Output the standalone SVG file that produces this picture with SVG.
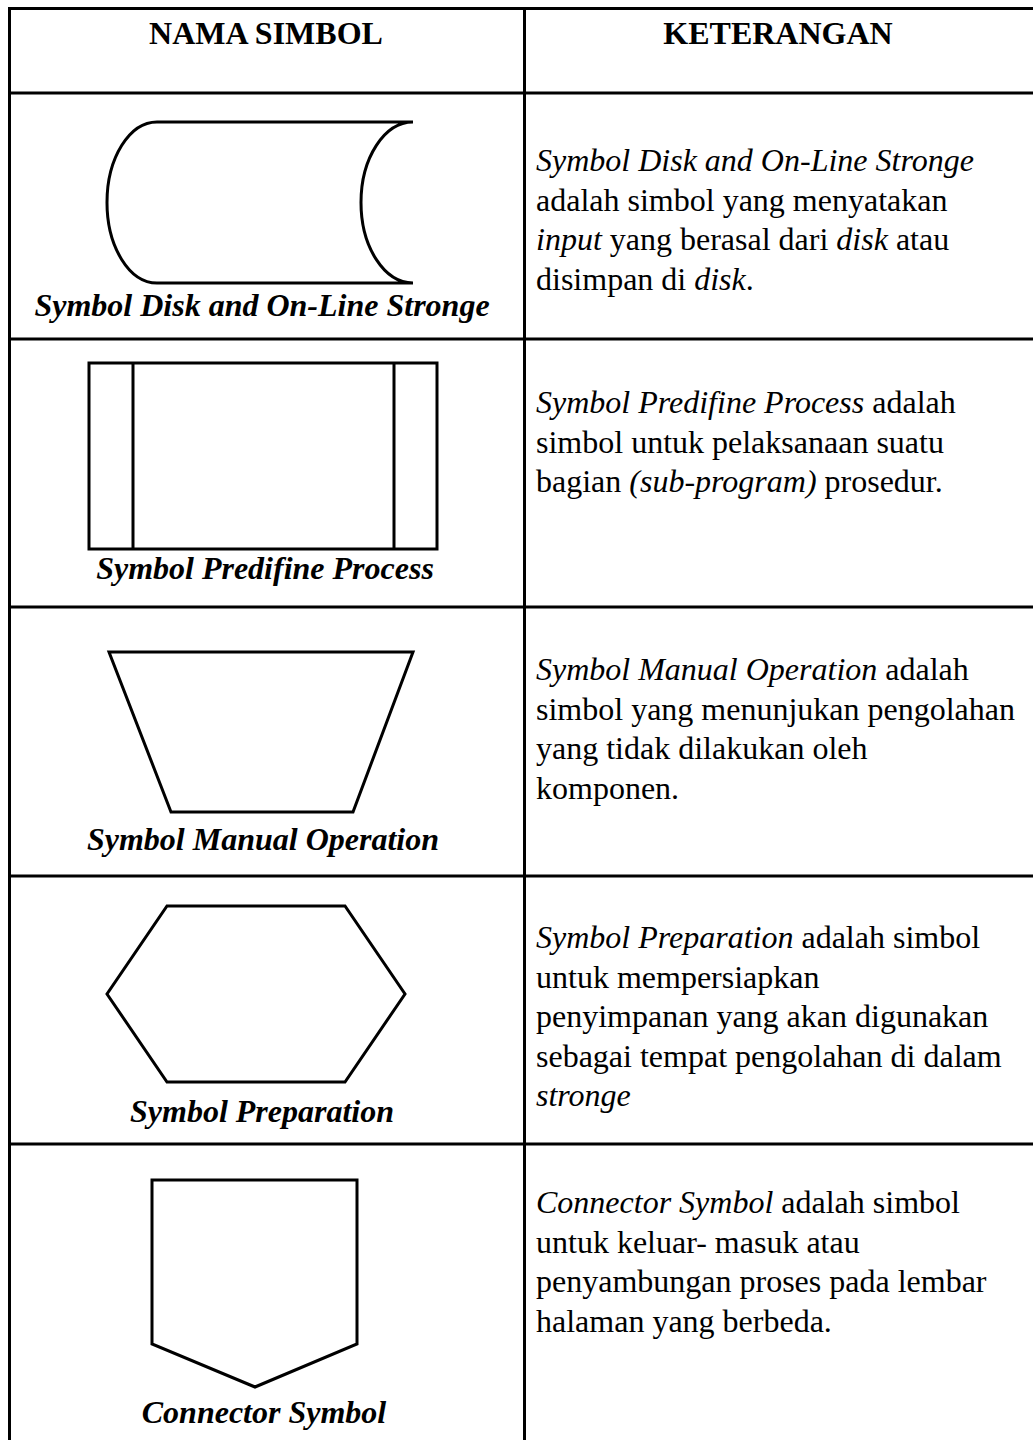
<svg xmlns="http://www.w3.org/2000/svg" width="1033" height="1440" viewBox="0 0 1033 1440">
<style>
.ln{stroke:#000;stroke-width:3;fill:none}
.sh{stroke:#000;stroke-width:3;fill:none;stroke-linejoin:miter}
.hd{font-family:"Liberation Serif","Times New Roman",serif;font-size:32px;font-weight:bold;fill:#000;text-anchor:middle}
.lb{font-family:"Liberation Serif","Times New Roman",serif;font-size:32px;font-weight:bold;font-style:italic;fill:#000;text-anchor:middle}
.tx{font-family:"Liberation Serif","Times New Roman",serif;font-size:32px;fill:#000}
.i{font-style:italic}
</style>
<rect width="1033" height="1440" fill="#fff"/>
<g id="table-lines">
<path class="ln" d="M9.5,1440 V8.5 H1033"/>
<path class="ln" d="M524.5,8.5 V1440"/>
<path class="ln" d="M9.5,93 H1033 M9.5,339 H1033 M9.5,607 H1033 M9.5,876 H1033 M9.5,1144 H1033"/>
</g>
<g id="header">
<text class="hd" x="266" y="44">NAMA SIMBOL</text>
<text class="hd" x="778" y="44">KETERANGAN</text>
</g>
<g id="disk">
<path class="sh" d="M157,122 H413 A52,80.5 0 0 0 413,283 H157 A50,80.5 0 0 1 157,122 Z"/>
<text class="lb" x="262" y="316">Symbol Disk and On-Line Stronge</text>
<text class="tx" x="536"><tspan x="536" y="171" class="i">Symbol Disk and On-Line Stronge</tspan><tspan x="536" y="210.5">adalah simbol yang menyatakan</tspan><tspan x="536" y="250"><tspan class="i">input</tspan> yang berasal dari <tspan class="i">disk</tspan> atau</tspan><tspan x="536" y="289.5">disimpan di <tspan class="i">disk</tspan>.</tspan></text>
</g>
<g id="predefined-process">
<rect class="sh" x="89" y="363" width="348" height="186"/>
<path class="sh" d="M133,363 V549 M394,363 V549"/>
<text class="lb" x="265" y="579">Symbol Predifine Process</text>
<text class="tx"><tspan x="536" y="413"><tspan class="i">Symbol Predifine Process</tspan> adalah</tspan><tspan x="536" y="452.5">simbol untuk pelaksanaan suatu</tspan><tspan x="536" y="492">bagian <tspan class="i">(sub-program)</tspan> prosedur.</tspan></text>
</g>
<g id="manual-operation">
<path class="sh" d="M109,652 H413 L353,812 H171 Z"/>
<text class="lb" x="263" y="850">Symbol Manual Operation</text>
<text class="tx"><tspan x="536" y="680"><tspan class="i">Symbol Manual Operation</tspan> adalah</tspan><tspan x="536" y="719.5">simbol yang menunjukan pengolahan</tspan><tspan x="536" y="759">yang tidak dilakukan oleh</tspan><tspan x="536" y="798.5">komponen.</tspan></text>
</g>
<g id="preparation">
<path class="sh" d="M167,906 H345 L405,994 L345,1082 H167 L107,994 Z"/>
<text class="lb" x="262" y="1122">Symbol Preparation</text>
<text class="tx"><tspan x="536" y="948"><tspan class="i">Symbol Preparation</tspan> adalah simbol</tspan><tspan x="536" y="987.5">untuk mempersiapkan</tspan><tspan x="536" y="1027">penyimpanan yang akan digunakan</tspan><tspan x="536" y="1066.5">sebagai tempat pengolahan di dalam</tspan><tspan x="536" y="1106" class="i">stronge</tspan></text>
</g>
<g id="connector">
<path class="sh" d="M152,1180 H357 V1344 L255,1387 L152,1344 Z"/>
<text class="lb" x="264" y="1423">Connector Symbol</text>
<text class="tx"><tspan x="536" y="1213"><tspan class="i">Connector Symbol</tspan> adalah simbol</tspan><tspan x="536" y="1252.5">untuk keluar- masuk atau</tspan><tspan x="536" y="1292">penyambungan proses pada lembar</tspan><tspan x="536" y="1331.5">halaman yang berbeda.</tspan></text>
</g>
</svg>
